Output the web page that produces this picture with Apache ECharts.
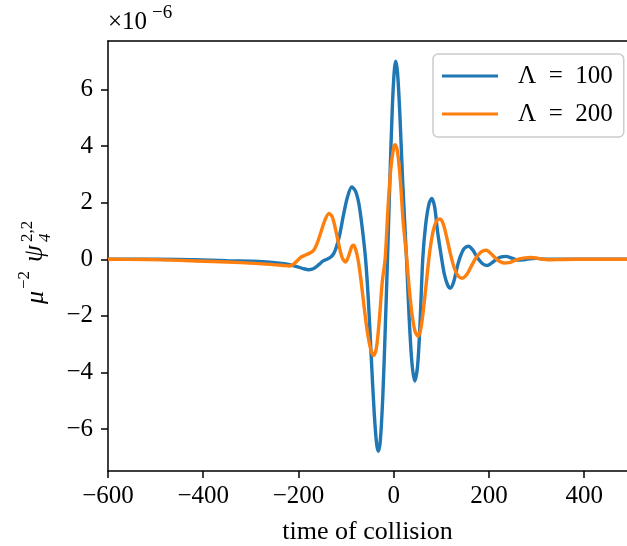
<!DOCTYPE html>
<html>
<head>
<meta charset="utf-8">
<script src="https://cdn.jsdelivr.net/npm/echarts@6/dist/echarts.min.js"></script>
<style>
html,body{margin:0;padding:0;background:#fff;}
#chart{width:627px;height:546px;}
</style>
</head>
<body>
<div id="chart"></div>
<script>
// ---- data (values in units of 1e-6) ----
const seriesNames = ['Λ = 100', 'Λ = 200'];
const timeA = [-600,-500,-420,-350,-300,-260,-230,-205,-190,-178,-168,-158,-148,-140,-132,-126,-120,-113,-105,-97,-88,-80,-73,-66,-59,-53,-47,-41,-36,-32,-28,-23,-18,-13,-8,-3,1,4,8,13,19,27,32,38,44,50,55,61,67,74,80,86,92,100,106,113,119,126,133,140,148,157,166,176,186,196,206,216,226,236,248,260,272,285,300,320,360,490];
const valA  = [0,0,-0.02,-0.05,-0.07,-0.1,-0.16,-0.25,-0.33,-0.37,-0.33,-0.2,-0.06,0.0,0.08,0.2,0.45,0.9,1.6,2.2,2.55,2.4,1.95,1.1,0.0,-1.5,-3.5,-5.4,-6.5,-6.78,-6.4,-4.9,-2.6,0.0,2.8,5.3,6.6,7.0,6.6,5.1,2.7,0.0,-1.9,-3.6,-4.3,-3.8,-2.4,0.0,1.2,1.95,2.15,1.85,1.0,0.1,-0.5,-0.9,-1.02,-0.8,-0.3,0.1,0.38,0.46,0.33,0.05,-0.15,-0.22,-0.13,0.0,0.08,0.1,0.04,-0.03,-0.02,0.02,0.03,0.0,0,0];
const timeB = [-600,-520,-450,-380,-320,-270,-235,-218,-210,-202,-194,-185,-176,-168,-160,-152,-144,-136,-129,-122,-115,-108,-101,-94,-88,-84,-80,-75,-69,-62,-55,-48,-42,-36,-30,-24,-18,-12,-6,0,3,8,14,20,27,33,39,45,51,57,63,70,76,83,90,97,104,111,119,127,135,144,153,162,171,180,188,195,203,212,222,232,242,252,264,276,288,300,315,330,350,380,490];
const valB  = [0,-0.01,-0.04,-0.08,-0.12,-0.17,-0.21,-0.24,-0.17,-0.04,0.08,0.15,0.22,0.32,0.6,1.0,1.4,1.62,1.5,1.05,0.5,0.05,-0.1,0.15,0.45,0.5,0.35,0.0,-0.7,-1.7,-2.6,-3.2,-3.4,-3.1,-2.1,-0.8,0.0,1.8,3.2,3.95,4.05,3.8,2.8,1.3,0.1,-1.1,-2.0,-2.55,-2.72,-2.45,-1.7,-0.6,0.3,1.0,1.35,1.42,1.25,0.8,0.2,-0.3,-0.58,-0.67,-0.55,-0.28,0.0,0.2,0.3,0.32,0.22,0.07,-0.07,-0.13,-0.12,-0.06,0.01,0.05,0.06,0.04,0.0,-0.02,-0.01,0,0];
const xTicks = [-600,-400,-200,0,200,400];
const yTicks = [-6,-4,-2,0,2,4,6];
const xLabel = 'time of collision';
const offsetBase = '×10';
const offsetExp = '−6';

const FONT = 'Liberation Serif';
const fmt = v => String(v).replace('-', '\u2212');
const zip = (t, v) => t.map((x, i) => [x, v[i]]);

const chart = echarts.init(document.getElementById('chart'), null, {renderer: 'canvas'});
const axisLineStyle = {color: '#000', width: 1.5};
chart.setOption({
  animation: false,
  backgroundColor: '#fff',
  grid: {left: 108, right: 0, top: 41, bottom: 75, containLabel: false, outerBoundsMode: 'none'},
  xAxis: [{
    type: 'value', min: -600, max: 490,
    position: 'bottom',
    axisLine: {show: true, onZero: false, lineStyle: axisLineStyle},
    axisTick: {show: true, length: 7, inside: false, lineStyle: axisLineStyle, customValues: xTicks},
    axisLabel: {fontFamily: FONT, fontSize: 25, color: '#000', margin: 13, customValues: xTicks, formatter: fmt},
    splitLine: {show: false},
    name: xLabel, nameLocation: 'middle', nameGap: 48,
    nameTextStyle: {fontFamily: FONT, fontSize: 26, color: '#000'}
  }, {
    type: 'value', min: -600, max: 490, position: 'top',
    axisLine: {show: true, onZero: false, lineStyle: axisLineStyle},
    axisTick: {show: false}, axisLabel: {show: false}, splitLine: {show: false}
  }],
  yAxis: {
    type: 'value', min: -7.48, max: 7.71,
    axisLine: {show: true, onZero: false, lineStyle: axisLineStyle},
    axisTick: {show: true, length: 7, lineStyle: axisLineStyle, customValues: yTicks},
    axisLabel: {fontFamily: FONT, fontSize: 25, color: '#000', margin: 15, customValues: yTicks, formatter: fmt},
    splitLine: {show: false}
  },
  legend: {
    orient: 'vertical', left: 433, top: 54,
    data: seriesNames,
    icon: 'rect', itemWidth: 56, itemHeight: 3, itemGap: 12,
    padding: [9, 11, 10, 9],
    borderColor: '#cccccc', borderWidth: 1.5, borderRadius: 5,
    backgroundColor: 'rgba(255,255,255,0.85)',
    formatter: name => name.replace(/ /g, '\u2002'),
    textStyle: {fontFamily: FONT, fontSize: 25, color: '#000', padding: [0, 0, 0, 15], lineHeight: 26}
  },
  series: [{
    name: seriesNames[0], type: 'line', data: zip(timeA, valA),
    showSymbol: false, smooth: 0.3,
    lineStyle: {color: '#1f77b4', width: 3.4}, itemStyle: {color: '#1f77b4'}, z: 2
  }, {
    name: seriesNames[1], type: 'line', data: zip(timeB, valB),
    showSymbol: false, smooth: 0.3,
    lineStyle: {color: '#ff7f0e', width: 3.4}, itemStyle: {color: '#ff7f0e'}, z: 3
  }],
  graphic: [
    {type: 'text', left: 108, top: 10, style: {text: offsetBase, fontFamily: FONT, fontSize: 25, fill: '#000'}},
    {type: 'text', left: 152, top: 4, style: {text: offsetExp, fontFamily: FONT, fontSize: 19, fill: '#000'}},
    {type: 'group', x: 43, y: 262, rotation: Math.PI / 2, children: [
      {type: 'text', x: -42, y: -7, style: {text: 'μ', fontFamily: FONT, fontStyle: 'italic', fontSize: 26, fill: '#000', verticalAlign: 'middle'}},
      {type: 'text', x: -27, y: -18, style: {text: '−2', fontFamily: FONT, fontSize: 17, fill: '#000', verticalAlign: 'middle'}},
      {type: 'text', x: 0, y: -8, style: {text: 'ψ', fontFamily: FONT, fontStyle: 'italic', fontSize: 27, fill: '#000', verticalAlign: 'middle'}},
      {type: 'text', x: 20, y: -15, style: {text: '2,2', fontFamily: FONT, fontSize: 17, fill: '#000', verticalAlign: 'middle'}},
      {type: 'text', x: 20, y: 3, style: {text: '4', fontFamily: FONT, fontStyle: 'italic', fontSize: 17, fill: '#000', verticalAlign: 'middle'}}
    ]}
  ]
});
</script>
</body>
</html>
